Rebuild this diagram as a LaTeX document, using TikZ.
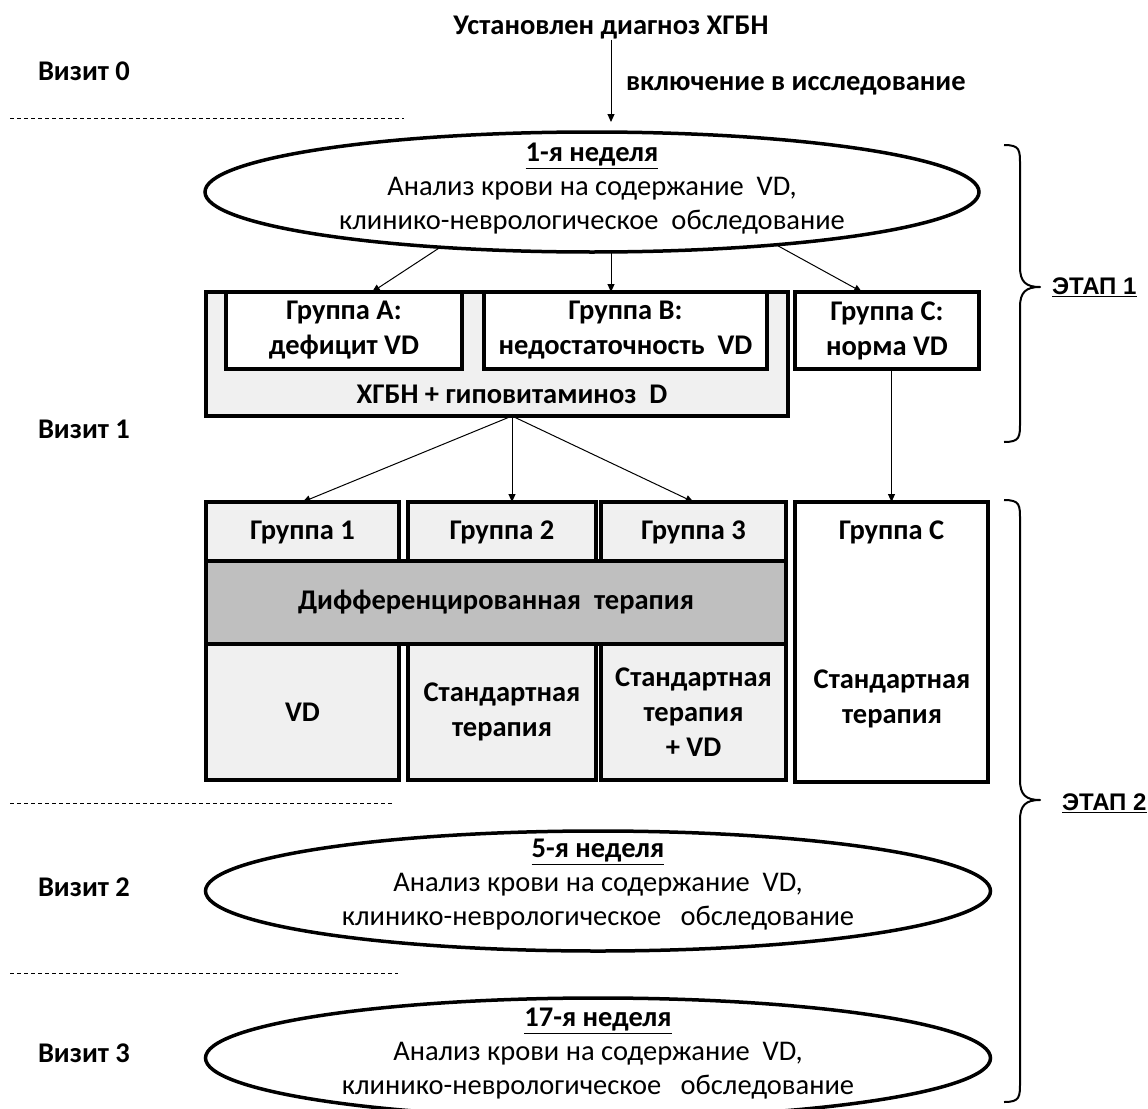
\documentclass[tikz,border=0pt]{standalone}
\usepackage{fontspec}
\setmainfont{Carlito}
\newfontfamily\etapfont{Liberation Sans}
\usetikzlibrary{shapes.geometric,decorations.pathreplacing,arrows.meta}

\begin{document}
\begin{tikzpicture}[x=1pt,y=-1pt,
    every node/.style={inner sep=0pt,outer sep=0pt,align=center,
      font=\fontsize{28.5}{34}\selectfont},
    bold/.style={font=\fontsize{28.5}{35}\selectfont\bfseries},
    visit/.style={bold,anchor=west},
    box/.style={draw,line width=3.5pt,anchor=north west,bold},
    oval/.style={draw,ellipse,line width=3.5pt,minimum width=785,minimum height=120},
    arr/.style={-{Triangle[width=7pt,length=8pt]},line width=1pt},
    sep/.style={dashed,line width=1pt,dash pattern=on 4pt off 3pt},
    stage/.style={line width=2pt,line join=round},
    etap/.style={anchor=west,font=\etapfont\fontsize{24}{28}\selectfont\bfseries},
    gr/.style={fill=black!6}]
\useasboundingbox (0,0) rectangle (1148,1108);
\clip (0,0) rectangle (1148,1108);

% Start of the study
\node[bold] (start) at (611,28) {Установлен диагноз ХГБН};
\node[bold,anchor=west] (incl) at (626,86) {включение в исследование};

% Visit labels
\node[visit] (v0) at (38,71) {Визит 0};
\node[visit] (v1) at (38,429) {Визит 1};
\node[visit] (v2) at (38,887) {Визит 2};
\node[visit] (v3) at (38,1053) {Визит 3};

% Dashed separators
\draw[sep] (10,118) -- (404,118);
\draw[sep] (10,803) -- (393,803);
\draw[sep] (10,973) -- (398,973);

% Week 1
\node[oval,minimum width=774] (week1) at (592,192) {};
\node (week1txt) at (592,189) {\textbf{\underline{1-я неделя}}\\
  Анализ крови на содержание~ VD,\\клинико-неврологическое~ обследование};

% Groups after week 1
\node[box,gr,minimum width=582,minimum height=124] (hypo) at (206,292) {};
\node[bold] (hypotxt) at (512,394) {ХГБН + гиповитаминоз~ D};
\node[box,fill=white,minimum width=236,minimum height=77] (grpA) at (226,292)
  {Группа А:\\дефицит VD};
\node[box,fill=white,minimum width=283,minimum height=77] (grpB) at (484,292)
  {Группа В:\\недостаточность~ VD};
\node[box,fill=white,minimum width=184,minimum height=77] (grpC) at (795,292)
  {Группа С:\\норма VD};

% Therapy groups
\node[box,gr,minimum width=193,minimum height=60] (g1) at (206,502) {Группа 1};
\node[box,gr,minimum width=188,minimum height=60] (g2) at (408,502) {Группа 2};
\node[box,gr,minimum width=185,minimum height=60] (g3) at (601,502) {Группа 3};
\node[box,fill=black!25,minimum width=580,minimum height=83] (diff) at (206,561)
  {Дифференцированная~ терапия};
\node[box,gr,minimum width=193,minimum height=136] (t1) at (206,644) {VD};
\node[box,gr,minimum width=188,minimum height=136] (t2) at (408,644)
  {Стандартная\\терапия};
\node[box,gr,minimum width=185,minimum height=136] (t3) at (601,644)
  {Стандартная\\терапия\\+ VD};
\node[box,fill=white,minimum width=193,minimum height=280] (gC) at (795,502) {};
\node[bold] (gCtop) at (gC.north |- g1) {Группа С};
\node[bold] (gCtxt) at (892,699) {Стандартная\\терапия};

% Week 5 and week 17
\node[oval] (week5) at (598,891) {};
\node (week5txt) at (598,885) {\textbf{\underline{5-я неделя}}\\
  Анализ крови на содержание~ VD,\\клинико-неврологическое~~ обследование};
\node[oval] (week17) at (598,1058) {};
\node (week17txt) at (598,1054) {\textbf{\underline{17-я неделя}}\\
  Анализ крови на содержание~ VD,\\клинико-неврологическое~~ обследование};

% Arrows
\draw[arr,shorten >=10pt] (start.south) -- (start.south |- week1.north);
\draw[arr] (week1.200) -- ([xshift=28pt]grpA.north);
\draw[arr] (start.south |- week1.south) -- (start.south |- grpB.north);
\draw[arr] (week1.-16) -- ([xshift=-25pt]grpC.north);
\draw[arr] ([xshift=15pt]hypo.south) -- (g1.north);
\draw[arr] ([xshift=15pt]hypo.south) -- ([xshift=15pt]hypo.south |- g2.north);
\draw[arr] ([xshift=15pt]hypo.south) -- (g3.north);
\draw[arr] (gC.north |- grpC.south) -- (gC.north);

% Stage 1 brace
\draw[stage] (1004,145) .. controls (1020,145) and (1020,150) .. (1020,165)
  -- (1020,267) .. controls (1020,282) and (1026,287) .. (1040,287)
  .. controls (1026,287) and (1020,292) .. (1020,307)
  -- (1020,422) .. controls (1020,437) and (1020,442) .. (1004,442);
\node[etap] (etap1) at (1052,287) {\underline{ЭТАП 1}};

% Stage 2 brace
\draw[stage] (1004,500) .. controls (1020,500) and (1020,505) .. (1020,520)
  -- (1020,780) .. controls (1020,795) and (1026,800) .. (1040,800)
  .. controls (1026,800) and (1020,805) .. (1020,820)
  -- (1020,1082) .. controls (1020,1097) and (1020,1102) .. (1004,1102);
\node[etap] (etap2) at (1062,803) {\underline{ЭТАП 2}};
\end{tikzpicture}
\end{document}
